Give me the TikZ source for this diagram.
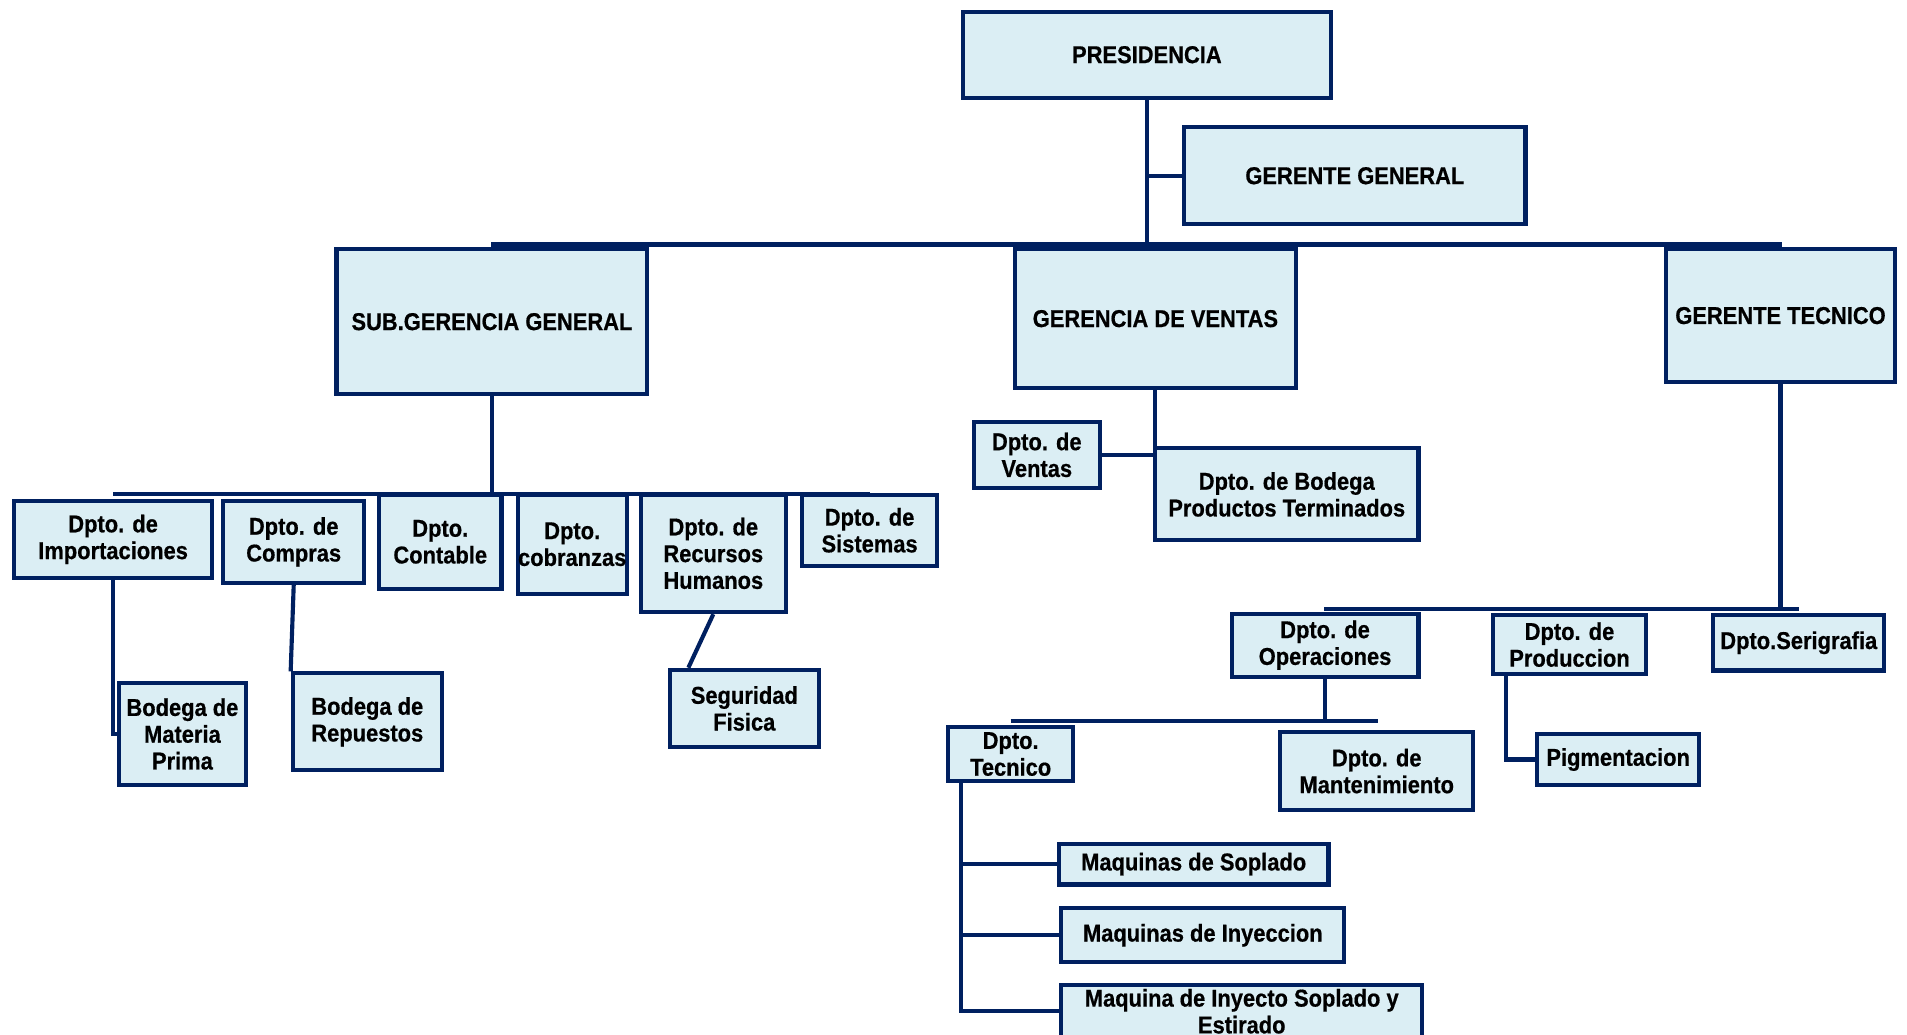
\documentclass[tikz,border=0pt]{standalone}
\usepackage{fontspec}
\setmainfont{Liberation Sans}[FakeStretch=0.9, FakeBold=0.6]
\definecolor{navy}{RGB}{0,32,96}
\definecolor{boxfill}{RGB}{219,238,244}
\tikzset{
  orgbox/.style={draw=navy, fill=boxfill, line width=1.7pt, inner sep=0pt,
    align=center, font=\bfseries\fontsize{10pt}{11pt}\selectfont},
  conn/.style={draw=navy, line width=1.7pt},
}
% name, left, top, right, bottom, text
\newcommand\orgbox[6]{%
  \node[orgbox, minimum width={(#4-#2-3.4)*0.5pt}, minimum height={(#5-#3-3.4)*0.5pt}]
    (#1) at ({(#2+#4)/2},{(#3+#5)/2}) {#6};}
\begin{document}
\begin{tikzpicture}[x=0.5pt, y=-0.5pt]
\useasboundingbox (0,0) rectangle (1568,851);
\clip (0,0) rectangle (1568,851);

% top management
\orgbox{pres}{790}{8}{1096}{82}{PRESIDENCIA}
\orgbox{gg}{972}{103}{1256}{186}{GERENTE GENERAL}
\orgbox{sub}{275}{203}{534}{326}{SUB.GERENCIA GENERAL}
\orgbox{gv}{833}{203}{1067}{321}{GERENCIA DE VENTAS}
\orgbox{gt}{1368}{203}{1560}{316}{GERENTE TECNICO}

% under the sub-management
\orgbox{imp}{10}{410}{176}{477}{Dpto. de\\Importaciones}
\orgbox{com}{182}{410}{301}{481}{Dpto. de\\Compras}
\orgbox{cont}{310}{405}{414}{486}{Dpto.\\Contable}
\orgbox{cob}{424}{405}{517}{490}{Dpto.\\cobranzas}
\orgbox{rrhh}{525}{405}{648}{505}{Dpto. de\\Recursos\\Humanos}
\orgbox{sis}{658}{405}{772}{467}{Dpto. de\\Sistemas}
\orgbox{bmp}{96}{560}{204}{647}{Bodega de\\Materia\\Prima}
\orgbox{brep}{239}{552}{365}{635}{Bodega de\\Repuestos}
\orgbox{seg}{549}{549}{675}{616}{Seguridad\\Fisica}

% sales
\orgbox{ven}{799}{345}{906}{403}{Dpto. de\\Ventas}
\orgbox{bpt}{948}{367}{1168}{446}{Dpto. de Bodega\\Productos Terminados}

% technical
\orgbox{ope}{1011}{503}{1168}{558}{Dpto. de\\Operaciones}
\orgbox{prod}{1226}{504}{1355}{556}{Dpto. de\\Produccion}
\orgbox{ser}{1407}{504}{1551}{553}{Dpto.Serigrafia}
\orgbox{tec}{778}{596}{884}{644}{Dpto.\\Tecnico}
\orgbox{man}{1051}{600}{1213}{668}{Dpto. de\\Mantenimiento}
\orgbox{pig}{1262}{602}{1399}{647}{Pigmentacion}
\orgbox{ms}{869}{692}{1094}{729}{Maquinas de Soplado}
\orgbox{mi}{871}{745}{1107}{793}{Maquinas de Inyeccion}
\orgbox{mie}{871}{808}{1171}{855}{Maquina de Inyecto Soplado y\\Estirado}

% connectors
\coordinate (busL) at (404,201);
\coordinate (busR) at (1465,201);
\draw[conn] (busL) -- (busR);
\draw[conn] (pres.south) -- (pres.south |- busL);
\draw[conn] (pres.south |- gg.west) -- (gg.west);

\coordinate (b2L) at (93,406);
\coordinate (b2R) at (715,406);
\draw[conn] (b2L) -- (b2R);
\draw[conn] (sub.south) -- (sub.south |- b2L);
\draw[conn] (imp.south) |- (bmp.west);
\draw[conn] (com.south) -- (brep.north west);
\coordinate (segtop) at (566,549);
\draw[conn] (rrhh.south) -- (segtop);

\draw[conn] (gv.south) |- (ven.east);

\coordinate (b3L) at (1089,501);
\coordinate (b3R) at (1479,501);
\draw[conn] (b3L) -- (b3R);
\draw[conn] (gt.south) -- (gt.south |- b3L);

\coordinate (b4L) at (831,593);
\coordinate (b4R) at (1133,593);
\draw[conn] (b4L) -- (b4R);
\draw[conn] (ope.south) -- (ope.south |- b4L);

\coordinate (prodL) at (1238,556);
\draw[conn] (prodL) |- (pig.west);

\coordinate (tecL) at (790,644);
\draw[conn] (tecL) |- (mie.west);
\draw[conn] (tecL |- ms.west) -- (ms.west);
\draw[conn] (tecL |- mi.west) -- (mi.west);
\end{tikzpicture}
\end{document}
